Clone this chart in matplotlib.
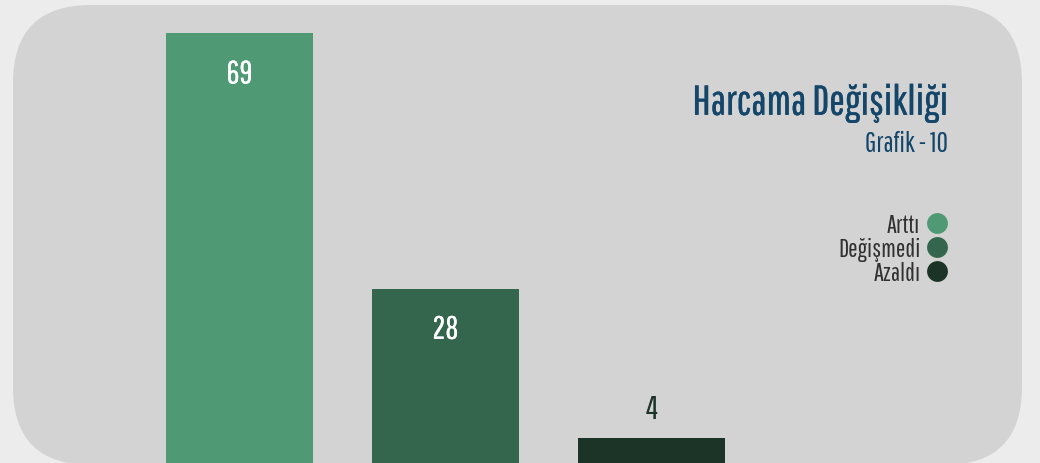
import matplotlib
matplotlib.use("Agg")
import matplotlib.pyplot as plt
import matplotlib.patheffects as pe
from matplotlib.patches import FancyBboxPatch
from matplotlib.lines import Line2D

plt.rcParams['font.family'] = ['Pathway Gothic One', 'Oswald', 'Barlow Condensed', 'DejaVu Sans']

categories = ["Arttı", "Değişmedi", "Azaldı"]
values = [69, 28, 4]
colors = ["#4f9a74", "#33664d", "#1c3328"]
title = "Harcama Değişikliği"
subtitle = "Grafik - 10"

fig = plt.figure(figsize=(10.4, 4.64), dpi=100)
fig.patch.set_facecolor("#ececec")

# rounded panel in pixel coordinates
bg = fig.add_axes([0, 0, 1, 1])
bg.set_xlim(0, 1040)
bg.set_ylim(464, 0)
bg.axis("off")
bg.add_patch(FancyBboxPatch((13, 6), 1009, 460, boxstyle="round,pad=0,rounding_size=78",
                            facecolor="#d3d3d3", edgecolor="none"))

ax = fig.add_axes([0, 0, 1, 1])
ax.patch.set_alpha(0)
x = range(len(values))
ax.bar(x, values, width=0.714, color=colors)
ax.set_xlim(-1.163, 3.886)
ax.set_ylim(0, 74.5)
ax.axis("off")

for i, v in enumerate(values):
    if v > 10:
        ax.text(i, v - 6.6, str(v), ha="center", va="center", color="white",
                fontsize=23, path_effects=[pe.withStroke(linewidth=0.2, foreground="white")])
    else:
        ax.text(i, v + 4.7, str(v), ha="center", va="center", color="#1c3328",
                fontsize=23)

# title a touch heavier, the original face is not as light as Pathway Gothic
fig.text(948 / 1040, 1 - 104 / 464, title, ha="right", va="center",
         color="#14466a", fontsize=30, path_effects=[pe.withStroke(linewidth=0.25, foreground="#14466a")])
fig.text(948 / 1040, 1 - 144 / 464, subtitle, ha="right", va="center",
         color="#14466a", fontsize=20)

handles = [Line2D([], [], marker="o", linestyle="none", markersize=15,
                  markerfacecolor=c, markeredgecolor="none") for c in colors]
leg = ax.legend(handles, categories, loc="upper right", markerfirst=False,
                frameon=False, fontsize=18, labelspacing=0.0, handletextpad=0.15,
                handlelength=1.0, borderaxespad=0, bbox_to_anchor=(959 / 1040, 1 - 204 / 464),
                bbox_transform=fig.transFigure)
for t in leg.get_texts():
    t.set_color("#303030")

fig.savefig("out.png", dpi=100, facecolor=fig.get_facecolor())
